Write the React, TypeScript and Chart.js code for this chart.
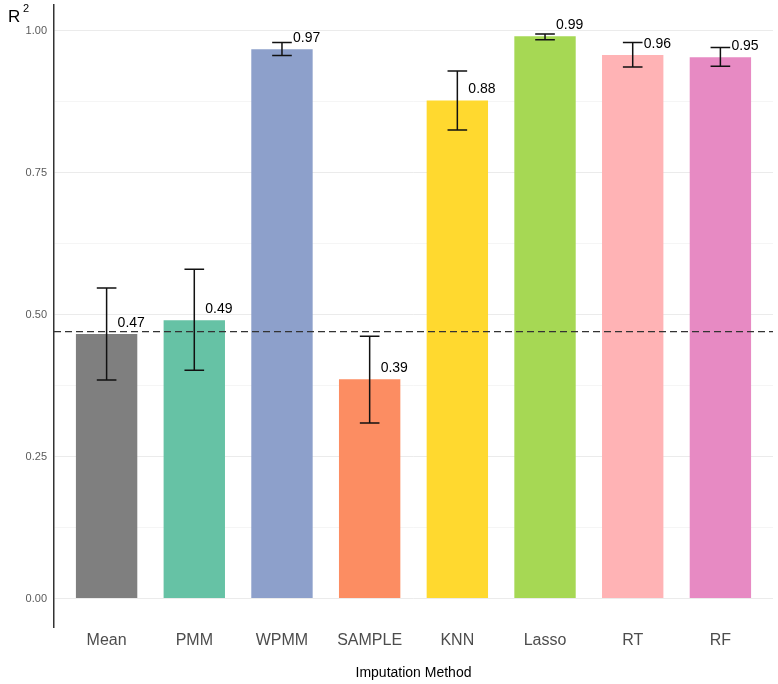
import { useEffect, useRef } from 'react';
import { Chart, registerables } from 'chart.js';
Chart.register(...registerables);

const methods = ['Mean', 'PMM', 'WPMM', 'SAMPLE', 'KNN', 'Lasso', 'RT', 'RF'];
const r2Mean = [0.466, 0.49, 0.967, 0.386, 0.877, 0.99, 0.957, 0.953];
const r2Upper = [0.547, 0.58, 0.979, 0.462, 0.929, 0.994, 0.979, 0.97];
const r2Lower = [0.385, 0.402, 0.956, 0.309, 0.825, 0.984, 0.936, 0.937];
const barColors = ['#7f7f7f', '#66c2a5', '#8da0cb', '#fc8d62', '#ffd92f', '#a6d854', '#ffb3b5', '#e78ac3'];
const baseline = 0.47;
const yTicks = [0, 0.125, 0.25, 0.375, 0.5, 0.625, 0.75, 0.875, 1];

const FONT = "'Liberation Sans', Arial, sans-serif";

const overlay = {
  id: 'overlay',
  afterDatasetsDraw(chart: Chart) {
    const { ctx, chartArea, scales } = chart;
    const y = scales.y;
    const meta = chart.getDatasetMeta(0);
    ctx.save();

    // reference line
    const yb = y.getPixelForValue(baseline);
    ctx.strokeStyle = '#333';
    ctx.lineWidth = 1.2;
    ctx.setLineDash([7, 4]);
    ctx.beginPath();
    ctx.moveTo(chartArea.left, yb);
    ctx.lineTo(chartArea.right, yb);
    ctx.stroke();
    ctx.setLineDash([]);

    // error bars + value labels
    meta.data.forEach((bar: any, i: number) => {
      const x = bar.x;
      const half = bar.width * 0.16;
      const yu = y.getPixelForValue(r2Upper[i]);
      const yl = y.getPixelForValue(r2Lower[i]);
      ctx.strokeStyle = '#111';
      ctx.lineWidth = 1.5;
      ctx.beginPath();
      ctx.moveTo(x, yu); ctx.lineTo(x, yl);
      ctx.moveTo(x - half, yu); ctx.lineTo(x + half, yu);
      ctx.moveTo(x - half, yl); ctx.lineTo(x + half, yl);
      ctx.stroke();

      const yt = y.getPixelForValue(r2Mean[i]);
      ctx.fillStyle = '#000';
      ctx.font = `14px ${FONT}`;
      ctx.textAlign = 'left';
      ctx.textBaseline = 'middle';
      ctx.fillText(r2Mean[i].toFixed(2), x + 11, yt - 11);
    });

    // axis label R^2
    ctx.fillStyle = '#000';
    ctx.textAlign = 'left';
    ctx.textBaseline = 'alphabetic';
    ctx.font = `17px ${FONT}`;
    ctx.fillText('R', 8, 22);
    ctx.font = `11px ${FONT}`;
    ctx.fillText('2', 23, 12);
    ctx.restore();
  },
};

export default function App() {
  const canvasRef = useRef<HTMLCanvasElement>(null);
  const chartRef = useRef<Chart | null>(null);

  useEffect(() => {
    if (!canvasRef.current) return;
    if (chartRef.current) chartRef.current.destroy();

    chartRef.current = new Chart(canvasRef.current, {
      type: 'bar',
      data: {
        datasets: [
          {
            label: 'R2',
            data: r2Mean.map((v, i) => ({ x: i + 1, y: v })),
            backgroundColor: barColors,
            borderWidth: 0,
            categoryPercentage: 1,
            barPercentage: 0.7,
          },
        ],
      },
      options: {
        animation: false,
        responsive: true,
        maintainAspectRatio: false,
        layout: { padding: { top: 5, right: 5, left: 0, bottom: 0 } },
        plugins: { legend: { display: false }, tooltip: { enabled: false } },
        scales: {
          x: {
            type: 'linear',
            min: 0.4,
            max: 8.6,
            offset: false,
            grid: { display: false, drawTicks: false },
            border: { display: false },
            afterBuildTicks: (s: any) => { s.ticks = methods.map((_, i) => ({ value: i + 1 })); },
            afterFit: (s: any) => { s.height = 57; s.paddingLeft = 0; s.paddingRight = 0; },
            ticks: {
              color: '#4d4d4d',
              font: { size: 16, family: FONT },
              padding: 4,
              autoSkip: false,
              maxRotation: 0,
              callback: (v: number | string) => methods[Number(v) - 1] ?? '',
            },
            title: {
              display: true,
              text: 'Imputation Method',
              color: '#000',
              font: { size: 14, family: FONT },
              padding: { top: 0, bottom: 2 },
            },
          },
          y: {
            type: 'linear',
            min: -0.05,
            max: 1.045,
            afterBuildTicks: (s: any) => { s.ticks = yTicks.map(v => ({ value: v })); },
            afterFit: (s: any) => { s.width = 54; s.paddingTop = 0; s.paddingBottom = 0; },
            grid: {
              drawTicks: false,
              color: (c: any) => (Math.round(c.tick?.value * 1000) % 250 === 0 ? '#ebebeb' : '#f5f5f5'),
              lineWidth: 1,
            },
            border: { display: true, color: '#333', width: 1.5 },
            ticks: {
              color: '#5a5a5a',
              font: { size: 11, family: FONT },
              padding: 7,
              callback: (v: number | string) => {
                const n = Number(v);
                return Math.round(n * 1000) % 250 === 0 ? n.toFixed(2) : '';
              },
            },
          },
        },
      },
      plugins: [overlay],
    });

    return () => { chartRef.current?.destroy(); };
  }, []);

  return (
    <div style={{ position: 'fixed', left: 0, top: 0, width: 778, height: 684, background: '#fff' }}>
      <canvas ref={canvasRef} role="img" aria-label="R squared by imputation method" />
    </div>
  );
}
